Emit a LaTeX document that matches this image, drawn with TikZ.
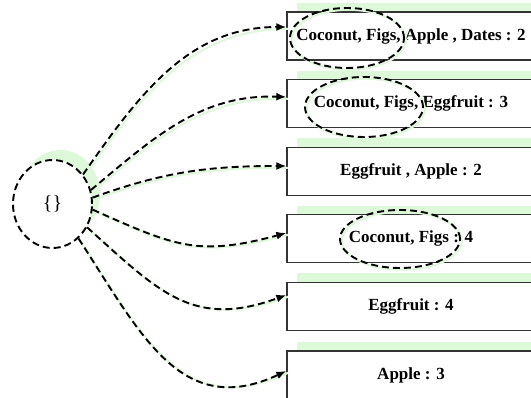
\documentclass[tikz,border=0pt]{standalone}
\usepackage{fontspec}
\setmainfont{Liberation Serif}
\usetikzlibrary{arrows.meta,shapes.geometric,shadows}
\definecolor{sgreen}{RGB}{222,248,218}
\begin{document}
\begin{tikzpicture}[x=1pt,y=1pt,
  lbl/.style={font=\fontsize{17}{20}\selectfont\bfseries},
  box/.style={draw=black!80, line width=1.3pt, fill=white, minimum width=248pt,
    minimum height=48pt, inner sep=0pt, lbl,
    drop shadow={shadow xshift=10pt, shadow yshift=9pt, fill=sgreen, opacity=1}},
  dsh/.style={dash pattern=on 7pt off 4pt, line width=1.9pt},
  gshadow/.style={preaction={draw=sgreen, solid, line width=2pt,
    transform canvas={xshift=1.8pt,yshift=-1.8pt}, -}},
  conn/.style={dsh, gshadow, -{Latex[length=10pt,width=8pt]}},
  hl/.style={ellipse, draw, dsh, inner sep=0pt, gshadow},
]
\useasboundingbox (0,0) rectangle (531,398);

\node[ellipse, draw, dsh, minimum width=79pt, minimum height=88pt, fill=white,
  drop shadow={shadow xshift=8pt, shadow yshift=10pt, fill=sgreen, opacity=1}]
  (c) at (52.5,194) {\fontsize{20}{22}\selectfont\{\}};

\node[box] (b1) at (411,362.0) {Coconut, Figs, Apple , Dates : 2};
\node[box] (b2) at (411,294.4) {Coconut, Figs, Eggfruit : 3};
\node[box] (b3) at (411,226.8) {Eggfruit , Apple : 2};
\node[box] (b4) at (411,159.2) {Coconut, Figs : 4};
\node[box] (b5) at (411,91.6) {Eggfruit : 4};
\node[box] (b6) at (411,23.0) {Apple : 3};

\node[hl, minimum width=114pt, minimum height=60pt] (e1) at (347,360) {};
\node[hl, minimum width=118pt, minimum height=60pt] (e2) at (364,291) {};
\node[hl, minimum width=120pt, minimum height=58pt] (e3) at (400,159) {};

\draw[conn] (c.44)  to[out=55,in=180]  ([yshift=9pt]b1.west);
\draw[conn] (c.20)  to[out=40,in=178]  ([yshift=6.6pt]b2.west);
\draw[conn] (c.9)   to[out=20,in=180]  ([yshift=5.2pt]b3.west);
\draw[conn] (c.-8)  to[out=-24,in=195,looseness=1.2] ([yshift=5.8pt]b4.west);
\draw[conn] (c.-34) to[out=-42,in=200,looseness=1.2] ([yshift=11.4pt]b5.west);
\draw[conn] (c.-53) to[out=-57,in=205,looseness=1.2] ([yshift=4pt]b6.west);
\end{tikzpicture}
\end{document}
